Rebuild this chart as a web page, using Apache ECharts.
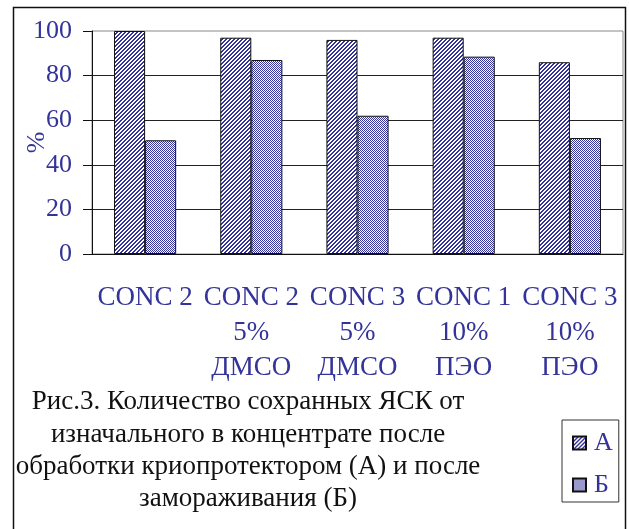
<!DOCTYPE html>
<html>
<head>
<meta charset="utf-8">
<script src="https://cdn.jsdelivr.net/npm/echarts@6/dist/echarts.min.js"></script>
<style>
  html, body { margin: 0; padding: 0; background: #fff; }
  #chart { width: 629px; height: 529px; }
</style>
</head>
<body>
<div id="chart"></div>
<script>
// Category labels (three lines each)
var categories = [
  'CONC 2',
  'CONC 2\n5%\nДМСО',
  'CONC 3\n5%\nДМСО',
  'CONC 1\n10%\nПЭО',
  'CONC 3\n10%\nПЭО'
];
// A — after cryoprotectant treatment, Б — after freezing (%)
var seriesNames = ['А', 'Б'];
var valuesA = [100, 97, 96, 97, 86];
var valuesB = [51, 87, 62, 88.5, 52];
var yTicks = { min: 0, max: 100, interval: 20 };
var caption = 'Рис.3. Количество сохранных ЯСК от\nизначального в концентрате после\nобработки криопротектором (А) и после\nзамораживания (Б)';

var NAVY = '#333399';
var FONT = 'Liberation Serif';

// Hatched fill: diagonal "/" stripes
function stripePattern() {
  var c = document.createElement('canvas');
  c.width = 4; c.height = 4;
  var g = c.getContext('2d');
  g.fillStyle = '#ffffff';
  g.fillRect(0, 0, 4, 4);
  g.fillStyle = NAVY;
  for (var y = 0; y < 4; y++) {
    for (var x = 0; x < 4; x++) {
      if ((x + y) % 4 < 2) g.fillRect(x, y, 1, 1);
    }
  }
  return c;
}
// Fine dotted fill: 1px checkerboard
function dotPattern() {
  var c = document.createElement('canvas');
  c.width = 2; c.height = 2;
  var g = c.getContext('2d');
  g.fillStyle = '#ffffff';
  g.fillRect(0, 0, 2, 2);
  g.fillStyle = NAVY;
  g.fillRect(0, 0, 1, 1);
  g.fillRect(1, 1, 1, 1);
  return c;
}

var chart = echarts.init(document.getElementById('chart'), null, { renderer: 'canvas' });

chart.setOption({
  backgroundColor: '#ffffff',
  animation: false,
  textStyle: { fontFamily: FONT },
  graphic: [
    {
      type: 'rect',
      silent: true,
      z: -10,
      shape: { x: 13.5, y: 7.5, width: 612, height: 540 },
      style: { fill: null, stroke: '#111', lineWidth: 1.5 }
    },
    {
      type: 'text',
      silent: true,
      x: 248,
      y: 386,
      style: {
        text: caption,
        fill: '#111',
        fontSize: 27,
        fontFamily: FONT,
        align: 'center',
        verticalAlign: 'top',
        lineHeight: 32.3
      }
    }
  ],
  legend: {
    orient: 'vertical',
    left: 562,
    top: 420,
    padding: [8, 6, 2, 10],
    itemGap: 12,
    itemWidth: 13,
    itemHeight: 13,
    icon: 'rect',
    borderColor: '#333',
    borderWidth: 1,
    data: seriesNames,
    textStyle: {
      color: NAVY,
      fontSize: 26,
      fontFamily: FONT,
      lineHeight: 30,
      padding: [0, 0, 0, 3]
    }
  },
  grid: {
    left: 92,
    top: 31,
    right: 6,
    bottom: 275,
    outerBoundsMode: 'none',
    containLabel: false,
    show: true,
    borderColor: '#888',
    borderWidth: 1
  },
  xAxis: {
    type: 'category',
    data: categories,
    axisLine: { lineStyle: { color: '#111', width: 1 } },
    axisTick: { length: 9, lineStyle: { color: '#111' } },
    axisLabel: {
      interval: 0,
      margin: 26,
      color: NAVY,
      fontSize: 27,
      fontFamily: FONT,
      lineHeight: 35,
      align: 'center'
    },
    splitLine: { show: false }
  },
  yAxis: {
    type: 'value',
    min: yTicks.min,
    max: yTicks.max,
    interval: yTicks.interval,
    name: '%',
    nameLocation: 'middle',
    nameGap: 42,
    nameMoveOverlap: false,
    nameTextStyle: { color: NAVY, fontSize: 26, fontFamily: FONT, padding: [0, 0, 0, 0] },
    axisLine: { show: true, lineStyle: { color: '#111', width: 1 } },
    axisTick: { show: true, length: 9, lineStyle: { color: '#111' } },
    axisLabel: { margin: 20, color: NAVY, fontSize: 26, fontFamily: FONT },
    splitLine: { show: true, showMaxLine: false, lineStyle: { color: '#222', width: 1 } }
  },
  series: [
    {
      name: seriesNames[0],
      type: 'bar',
      data: valuesA,
      barGap: '0%',
      barCategoryGap: '41.5%',
      itemStyle: {
        color: { image: stripePattern(), repeat: 'repeat' },
        borderColor: '#111',
        borderWidth: 1
      }
    },
    {
      name: seriesNames[1],
      type: 'bar',
      data: valuesB,
      barGap: '0%',
      barCategoryGap: '41.5%',
      itemStyle: {
        color: { image: dotPattern(), repeat: 'repeat' },
        borderColor: '#111',
        borderWidth: 1
      }
    }
  ]
});
</script>
</body>
</html>
